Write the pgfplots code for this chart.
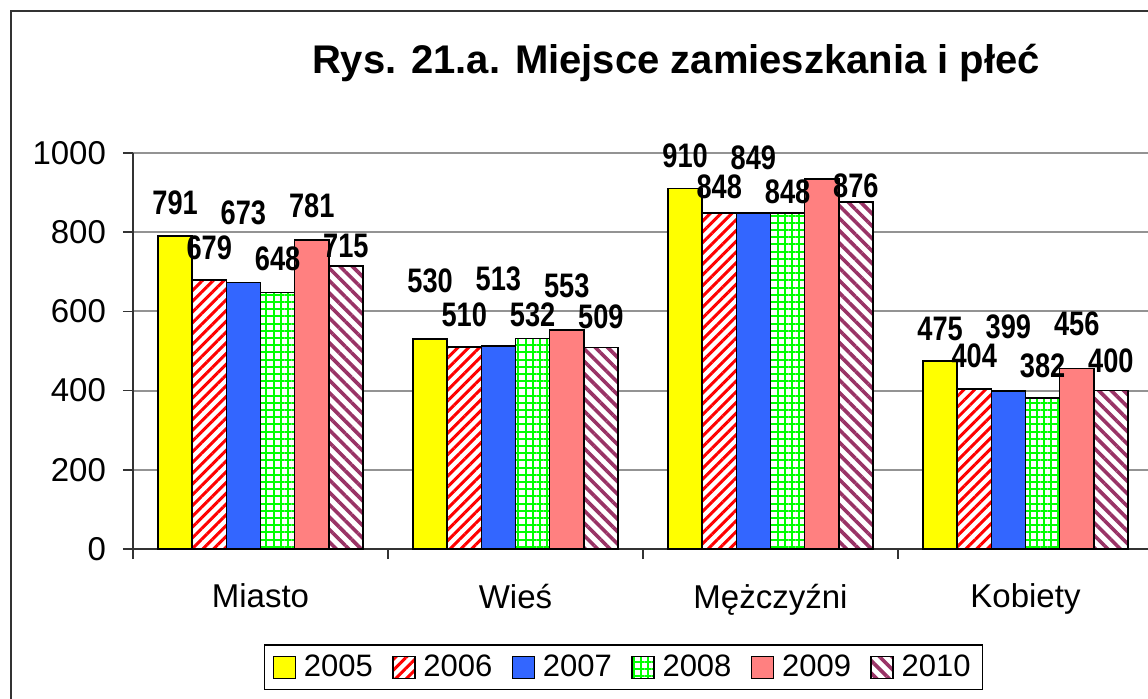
\documentclass[border=0pt]{standalone}
\usepackage{fontspec}
\setmainfont{Liberation Sans}
\newfontfamily\narrowfont{Liberation Sans}[FakeStretch=0.8]
\usepackage{pgfplots}
\pgfplotsset{compat=1.18}
\usepackage{pgfplotstable}
\usetikzlibrary{patterns.meta}

\definecolor{c2005}{HTML}{FFFF00}
\definecolor{c2006}{HTML}{FF0000}
\definecolor{c2007}{HTML}{3366FF}
\definecolor{c2008}{HTML}{00FF00}
\definecolor{c2009}{HTML}{FF8080}
\definecolor{c2010}{HTML}{993366}

% x = category, y = value, ly = height at which the value label sits
\pgfplotstableread{
x y ly
0 791 874
1 530 677
2 910 992
3 475 556
}\tA
\pgfplotstableread{
x y ly
0 679 761
1 510 591
2 848 914
3 404 487
}\tB
\pgfplotstableread{
x y ly
0 673 848
1 513 682
2 849 987
3 399 561
}\tC
\pgfplotstableread{
x y ly
0 648 732
1 532 591
2 848 902
3 382 462
}\tD
\pgfplotstableread{
x y ly
0 781 866
1 553 664
2 935 1015
3 456 568
}\tE
\pgfplotstableread{
x y ly
0 715 765
1 509 586
2 876 917
3 400 475
}\tF

\pgfplotsset{
  mybar/.style={ybar, bar width=0.134, bar shift=#1, draw=black, line width=0.8pt,
    legend image code/.code={\draw[##1] (0pt,-5.5pt) rectangle (11pt,5.5pt);}},
  mylab/.style={draw=none, mark=none, forget plot, nodes near coords, point meta=explicit,
    every node near coord/.style={anchor=center, inner sep=0pt, text=black,
      font=\narrowfont\bfseries\fontsize{17}{20}\selectfont}},
}

\begin{document}
\begin{tikzpicture}
\begin{axis}[
  at={(66.5pt,-274.5pt)}, anchor=south west,
  scale only axis, width=510pt, height=198pt,
  xmin=-0.5, xmax=3.5, ymin=0, ymax=1000,
  xtick={0,1,2,3}, xticklabels={Miasto,Wieś,Mężczyźni,Kobiety},
  minor xtick={-0.5,0.5,1.5,2.5,3.5},
  ytick={0,200,400,600,800,1000},
  ymajorgrids, grid style={gray!85, line width=1pt},
  axis x line*=bottom, axis y line*=left,
  axis line style={black!80, line width=0.8pt},
  tick align=outside, major tick length=5pt, minor tick length=5pt,
  tick style={black!80, line width=0.8pt},
  major x tick style={draw=none},
  ticklabel style={font=\fontsize{16.5}{19}\selectfont},
  /pgf/number format/assume math mode=true,
  /pgf/number format/1000 sep={},
  yticklabel style={xshift=-5pt},
  xticklabel style={yshift=-9pt},
  legend columns=6,
  legend style={at={(0.481,-0.299)}, anchor=center, draw=black, line width=0.6pt,
    font=\fontsize{15.5}{18}\selectfont,
    /tikz/every odd column/.append style={column sep=1.8pt},
    /tikz/every even column/.append style={column sep=7.7pt},
    inner xsep=4pt, inner ysep=3pt},
]
\addplot[mybar=-0.335, fill=c2005] table[x=x,y=y]{\tA};
\addplot[mybar=-0.201, fill=white, postaction={pattern={Lines[angle=45,distance=3.8pt,line width=1.5pt]}, pattern color=c2006, draw=black}] table[x=x,y=y]{\tB};
\addplot[mybar=-0.067, fill=c2007] table[x=x,y=y]{\tC};
\addplot[mybar=0.067, fill=white, postaction={pattern={Hatch[angle=0,distance=3.6pt,line width=1pt]}, pattern color=c2008, draw=black}] table[x=x,y=y]{\tD};
\addplot[mybar=0.201, fill=c2009] table[x=x,y=y]{\tE};
\addplot[mybar=0.335, fill=white, postaction={pattern={Lines[angle=-45,distance=4.4pt,line width=1.8pt]}, pattern color=c2010, draw=black}] table[x=x,y=y]{\tF};
\legend{2005,2006,2007,2008,2009,2010}
\addplot[mylab] table[x expr=\thisrow{x}-0.335, y=ly, meta=y]{\tA};
\addplot[mylab] table[x expr=\thisrow{x}-0.201, y=ly, meta=y]{\tB};
\addplot[mylab] table[x expr=\thisrow{x}-0.067, y=ly, meta=y]{\tC};
\addplot[mylab] table[x expr=\thisrow{x}+0.067, y=ly, meta=y]{\tD};
\addplot[mylab] table[x expr=\thisrow{x}+0.201, y=ly, meta=y]{\tE};
\addplot[mylab] table[x expr=\thisrow{x}+0.335, y=ly, meta=y]{\tF};
\end{axis}
\node[anchor=base, font=\fontsize{20}{24}\selectfont\bfseries] at (338pt,-36.5pt) {Rys. 21.a. Miejsce zamieszkania i płeć};
\draw[black!80, line width=0.75pt] (5.5pt,-360pt) -- (5.5pt,-5.5pt) -- (590pt,-5.5pt);
\pgfresetboundingbox
\useasboundingbox (0pt,0pt) rectangle (574pt,-349pt);
\end{tikzpicture}
\end{document}
